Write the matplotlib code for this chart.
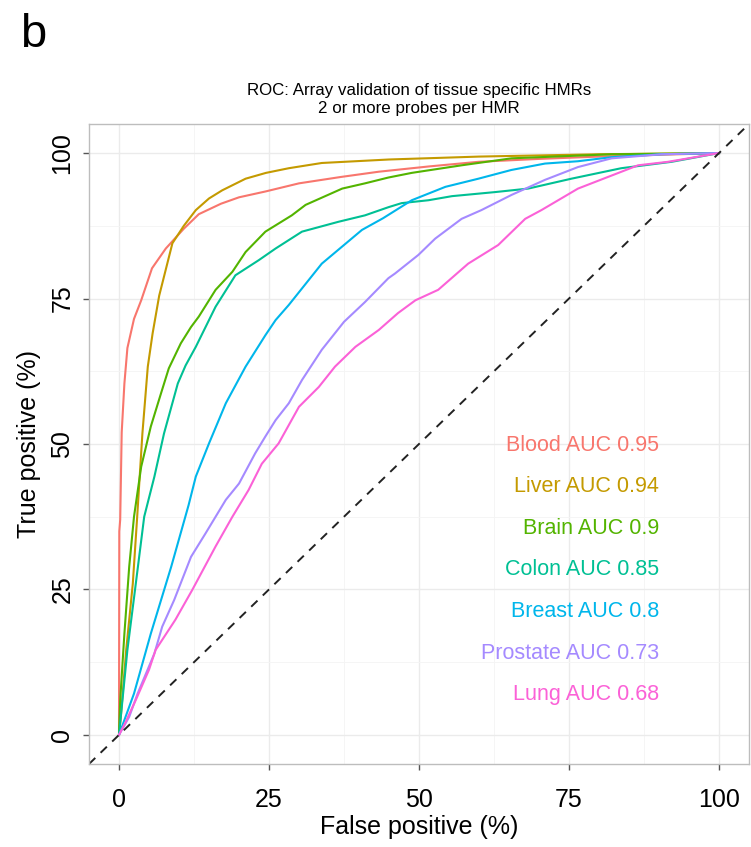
import matplotlib
matplotlib.use("Agg")
import matplotlib.pyplot as plt
from matplotlib.ticker import FixedLocator

plt.rcParams['font.family'] = ['Liberation Sans', 'DejaVu Sans']

# ---- data (percent) ----
tissues = ["Blood", "Liver", "Brain", "Colon", "Breast", "Prostate", "Lung"]
auc = ["0.95", "0.94", "0.9", "0.85", "0.8", "0.73", "0.68"]
colors = ["#F8766D", "#C49A00", "#53B400", "#00C094", "#00B6EB", "#A58AFF", "#FB61D7"]

blood_fp = [0, 0.05, 0.2, 0.45, 0.9, 1.4, 2.5, 3.7, 5.5, 7.8, 10.8, 13.3, 17, 20, 24.4, 30, 37, 43.3, 51.6, 59.9, 70, 80, 90, 100]
blood_tp = [0, 35, 37, 52, 60.4, 66.5, 71.5, 74.7, 80.2, 83.6, 87, 89.5, 91.3, 92.4, 93.4, 94.8, 95.9, 96.8, 97.7, 98.5, 99.0, 99.4, 99.7, 100]

liver_fp = [0, 0.3, 1.2, 2.3, 3.0, 3.9, 4.8, 5.6, 6.7, 8.9, 10.8, 12.8, 15, 17.2, 21.1, 24.5, 28.3, 33.8, 45, 60, 80, 100]
liver_tp = [0, 3.1, 14.6, 26, 37, 51.8, 63.3, 69, 75.5, 84.5, 87.5, 90.2, 92.2, 93.6, 95.6, 96.6, 97.4, 98.3, 98.9, 99.4, 99.8, 100]

brain_fp = [0, 0.2, 0.9, 1.7, 2.5, 3.7, 5.3, 7.0, 8.3, 10.3, 12.0, 13.3, 16.1, 18.9, 21.1, 24.4, 28.8, 31.1, 37.2, 41, 44.9, 48.8, 57.1, 65.4, 82.1, 100]
brain_tp = [0, 6, 17.4, 28.9, 37.5, 46.1, 53, 58.7, 63, 67.3, 70.1, 71.9, 76.5, 79.6, 83, 86.5, 89.3, 91.1, 93.9, 94.8, 95.8, 96.6, 97.9, 99.1, 99.8, 100]

colon_fp = [0, 0.3, 1.4, 2.8, 4.2, 5.9, 7.5, 9.8, 11.1, 12.8, 16.1, 19.4, 23.3, 26.1, 30.5, 36.6, 41, 44.9, 47.1, 51.6, 55.5, 62.7, 68.2, 75.4, 83.7, 92.1, 100]
colon_tp = [0, 3.1, 14.6, 26, 37.5, 44.4, 51.8, 60.4, 63.5, 66.7, 73.6, 79, 81.6, 83.6, 86.5, 88.2, 89.3, 90.7, 91.4, 91.9, 92.6, 93.3, 93.9, 95.6, 97.4, 98.5, 100]

breast_fp = [0, 2.5, 5.3, 8.7, 11.6, 12.8, 15, 17.8, 21.1, 24.4, 26.1, 28.3, 33.8, 40.5, 44, 48.8, 54.4, 59.9, 65.4, 71, 76.5, 82.1, 90.4, 100]
breast_tp = [0, 7.1, 17.4, 28.9, 39.5, 44.4, 50.1, 57, 63.3, 68.7, 71.3, 73.9, 81, 86.8, 88.8, 91.9, 94.2, 95.6, 97.1, 98.2, 98.6, 99.3, 99.8, 100]

prostate_fp = [0, 1.7, 3.1, 5.9, 7.2, 9.2, 12, 14.4, 16.1, 17.8, 20, 22.7, 24.4, 26.1, 28.3, 30.5, 33.8, 37.5, 41, 44.9, 46, 49.9, 52.7, 57.1, 60.4, 65.4, 71, 76.5, 82.1, 90.4, 100]
prostate_tp = [0, 3.1, 7.1, 14, 18.6, 23.2, 30.6, 34.6, 37.5, 40.4, 43.2, 48.4, 51.3, 54.1, 57, 61, 66.2, 71, 74.4, 78.5, 79.3, 82.5, 85.3, 88.7, 90.2, 92.8, 95.4, 97.6, 99.1, 99.8, 100]

lung_fp = [0, 1.1, 2.8, 5, 6.1, 9.4, 12.2, 16.1, 18.9, 21.6, 23.8, 26.6, 30, 33.3, 36, 39.4, 43.3, 46.5, 49.4, 53.2, 58.2, 63.2, 67.7, 70.4, 76.5, 81.5, 86.5, 91.5, 100]
lung_tp = [0, 2.2, 6, 11.2, 14.6, 19.8, 24.9, 32.4, 37.5, 42.1, 46.6, 50.1, 56.4, 59.8, 63.3, 66.7, 69.6, 72.5, 74.7, 76.5, 81, 84.2, 88.7, 90.2, 93.9, 95.9, 97.9, 98.5, 100]

curves = [(blood_fp, blood_tp), (liver_fp, liver_tp), (brain_fp, brain_tp),
          (colon_fp, colon_tp), (breast_fp, breast_tp), (prostate_fp, prostate_tp),
          (lung_fp, lung_tp)]

ticks = [0, 25, 50, 75, 100]
minor_ticks = [12.5, 37.5, 62.5, 87.5]

# ---- figure ----
W, H = 751, 847
fig = plt.figure(figsize=(W / 100, H / 100), dpi=100)
ax = fig.add_axes([89 / W, 1 - 764 / H, (749 - 89) / W, (764 - 124) / H])

ax.set_xlim(-5, 105)
ax.set_ylim(-5, 105)

ax.xaxis.set_major_locator(FixedLocator(ticks))
ax.yaxis.set_major_locator(FixedLocator(ticks))
ax.xaxis.set_minor_locator(FixedLocator(minor_ticks))
ax.yaxis.set_minor_locator(FixedLocator(minor_ticks))
ax.grid(which='major', color='#ebebeb', lw=1.0)
ax.grid(which='minor', color='#f4f4f4', lw=0.6)
ax.set_axisbelow(True)

for s in ax.spines.values():
    s.set_color('#bdbdbd')
    s.set_linewidth(1.0)

ax.tick_params(which='major', direction='out', length=4.5, width=1.0, color='#555555',
               labelsize=18, labelcolor='black')
ax.tick_params(axis='x', which='major', pad=13)
ax.tick_params(axis='y', which='major', pad=6)
ax.tick_params(which='minor', length=0)
for lab in ax.get_yticklabels():
    lab.set_rotation(90)
    lab.set_va('center')

for (fp, tp), c in zip(curves, colors):
    ax.plot(fp, tp, color=c, lw=1.5, solid_joinstyle='round')

ax.plot([-5, 105], [-5, 105], color='#222222', lw=1.4, ls=(0, (4.5, 3.8)))

for i, (t, a, c) in enumerate(zip(tissues, auc, colors)):
    ax.text(90, 49.8 - 7.15 * i, f"{t} AUC {a}", color=c, fontsize=15.5,
            ha='right', va='center')

ax.set_xlabel("False positive (%)", fontsize=18, labelpad=2)
ax.set_ylabel("True positive (%)", fontsize=18, labelpad=7)
ax.set_title("ROC: Array validation of tissue specific HMRs\n2 or more probes per HMR",
             fontsize=12.2, linespacing=1.2, pad=8)

fig.text(20 / W, 1 - 47 / H, "b", fontsize=34, ha='left', va='baseline')

fig.savefig("out.png", dpi=100)
